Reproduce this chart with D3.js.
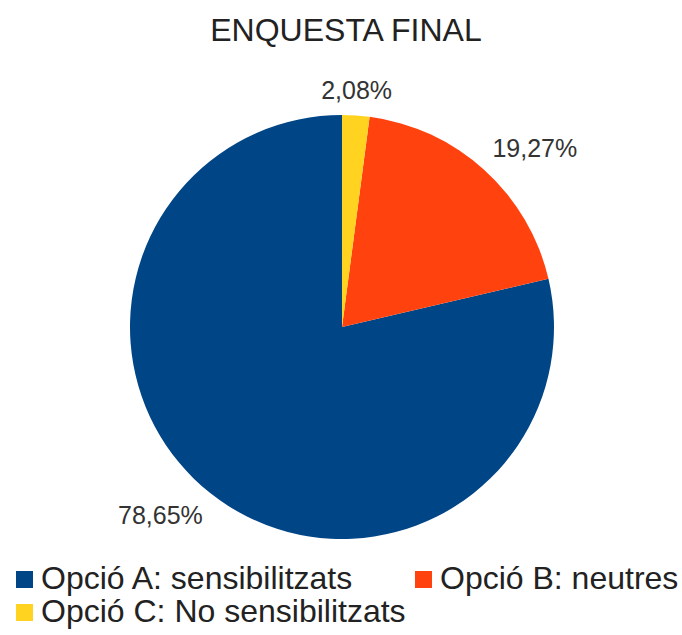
<!DOCTYPE html>
<html>
<head>
<meta charset="utf-8">
<script src="https://cdn.jsdelivr.net/npm/d3@7"></script>
<style>
  body { margin: 0; background: #fff; }
  text { font-family: "Liberation Sans", Arial, sans-serif; fill: #333; }
</style>
</head>
<body>
<div id="chart"></div>
<script>
// values
let categories = ["Opció A: sensibilitzats", "Opció B: neutres", "Opció C: No sensibilitzats"];
let values = [78.65, 19.27, 2.08];
let colors = ["#004586", "#ff420e", "#ffd320"];
let title = "ENQUESTA FINAL";

let w = 682;
let h = 635;
let cx = 342, cy = 327, r = 212;

let svg = d3.select("#chart")
  .append("svg")
  .attr("width", w)
  .attr("height", h);

svg.append("text")
  .attr("x", 346)
  .attr("y", 41)
  .attr("text-anchor", "middle")
  .style("font-size", "32px")
  .style("fill", "#222")
  .text(title);

let color = d3.scaleOrdinal().domain(categories).range(colors);

// counter-clockwise from 12 o'clock, like the original
let pie = d3.pie()
  .sort(null)
  .startAngle(0)
  .endAngle(-2 * Math.PI)
  .value((d, i) => values[i]);

let arcs = pie(categories);
let arc = d3.arc().innerRadius(0).outerRadius(r);

let g = svg.append("g")
  .attr("transform", "translate(" + cx + "," + cy + ")");

g.selectAll("path")
  .data(arcs)
  .enter()
  .append("path")
  .attr("d", arc)
  .attr("fill", (d) => color(d.data));

// labels outside the pie
let fmt = (v) => v.toFixed(2).replace(".", ",") + "%";
g.selectAll("text.lbl")
  .data(arcs)
  .enter()
  .append("text")
  .attr("class", "lbl")
  .style("font-size", "25px")
  .each(function(d, i) {
    let a = (d.startAngle + d.endAngle) / 2;
    let s = Math.sin(a), c = Math.cos(a);
    let px = (r + 12) * s;
    let py = -(r + 12) * c;
    let anchor = s > 0.1 ? "start" : (s < -0.1 ? "end" : "middle");
    let y = c > 0 ? py - 4 : py + 22;
    d3.select(this)
      .attr("x", px)
      .attr("y", y)
      .attr("text-anchor", anchor)
      .text(fmt(values[i]));
  });

// legend
let lBlock = 17;
let colX = [16, 415];
let rowY = [571, 604];
let legend = svg.append("g").attr("class", "legend");
let items = legend.selectAll("g")
  .data(categories)
  .enter()
  .append("g")
  .attr("transform", (d, i) => "translate(" + colX[i % 2] + "," + rowY[Math.floor(i / 2)] + ")");

items.append("rect")
  .attr("width", lBlock)
  .attr("height", lBlock)
  .attr("fill", (d) => color(d));

items.append("text")
  .attr("x", lBlock + 8)
  .attr("y", lBlock + 1)
  .style("font-size", "32px")
  .style("fill", "#222")
  .text((d) => d);
</script>
</body>
</html>
